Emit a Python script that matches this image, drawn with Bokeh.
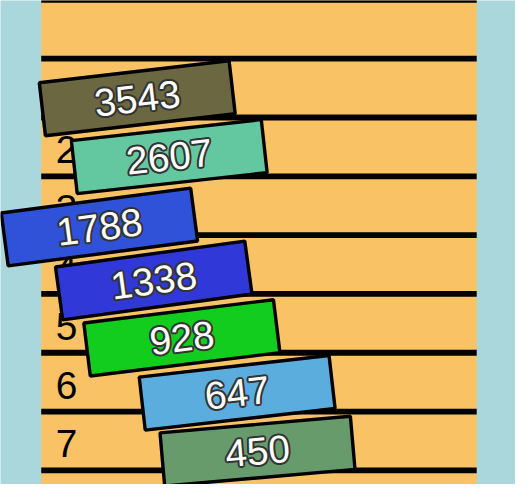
from bokeh.plotting import figure
from bokeh.models import Range1d, ColumnDataSource
from bokeh.core.properties import value
from bokeh.embed import file_html
from bokeh.resources import INLINE

# ---- data ----
categories = ["1", "2", "3", "4", "5", "6", "7"]
values = [3543, 2607, 1788, 1338, 928, 647, 450]
colors = ["#6b6741", "#63c7a0", "#2f52d8", "#3138d8", "#12cc1e", "#5badde", "#679b6c"]

# ---- layout / style (sticker placement) ----
box_x = [141, 174, 102, 158, 187, 244, 265]          # horizontal centre (reference px)
box_dy = [10.5, 10.0, 22.0, 16.5, 15.0, 11.0, 10.5]  # shift below row centre (reference px)
box_angle = [6.6, 6.3, 7.5, 7.8, 7.0, 6.5, 5.0]      # degrees
ROW_PX = 60.75
W, H = 515, 484
S = W / 531.0

rows = list(range(1, len(categories) + 1))
box_y = [r + d / ROW_PX for r, d in zip(rows, box_dy)]
labels = [str(v) for v in values]

y_top = 1 + (0 - 90.5) / ROW_PX
y_bot = 1 + (500 - 90.5) / ROW_PX

p = figure(width=W, height=H, output_backend="svg", toolbar_location=None,
           x_range=Range1d(0, 531), y_range=Range1d(y_bot, y_top),
           min_border=0, background_fill_color="#a9d7dc", border_fill_color="#a9d7dc",
           outline_line_color=None)
p.axis.visible = False
p.grid.visible = False

# orange panel
p.quad(left=[42], right=[491], top=[y_top - 1], bottom=[y_bot + 1], fill_color="#f8c265", line_color=None)

# row separators
sep = [rows[0] - 1.5] + [r - 0.5 for r in rows] + [rows[-1] + 0.5]
p.segment(x0=[42] * len(sep), x1=[491] * len(sep), y0=sep, y1=sep,
          line_color="black", line_width=6 * S)

# category labels
p.text(x=[57] * len(rows), y=[r + 3 / ROW_PX for r in rows], text=categories,
       text_font=value("Liberation Sans"), text_font_size=f"{40 * S:.1f}px",
       text_baseline="middle", text_align="left", text_color="black")

src = ColumnDataSource(dict(x=box_x, y=box_y, a=box_angle, c=colors, t=labels))
p.rect(x="x", y="y", width=197 * S, height=55 * S, width_units="screen", height_units="screen",
       angle="a", angle_units="deg", fill_color="c", line_color="black", line_width=3.5 * S,
       source=src)

fs = f"{40 * S:.1f}px"
halo = [(-2.0, 0), (2.0, 0), (0, -2.0), (0, 2.0), (-1.5, -1.5), (1.5, -1.5), (-1.5, 1.5), (1.5, 1.5)]
for dx, dy in halo:
    p.text(x="x", y="y", text="t", angle="a", angle_units="deg", x_offset=dx, y_offset=dy,
           text_font=value("Liberation Sans"), text_font_size=fs,
           text_align="center", text_baseline="middle", text_color="#333333", source=src)
p.text(x="x", y="y", text="t", angle="a", angle_units="deg",
       text_font=value("Liberation Sans"), text_font_size=fs,
       text_align="center", text_baseline="middle", text_color="white", source=src)

open("out.html", "w").write(file_html(p, INLINE))
